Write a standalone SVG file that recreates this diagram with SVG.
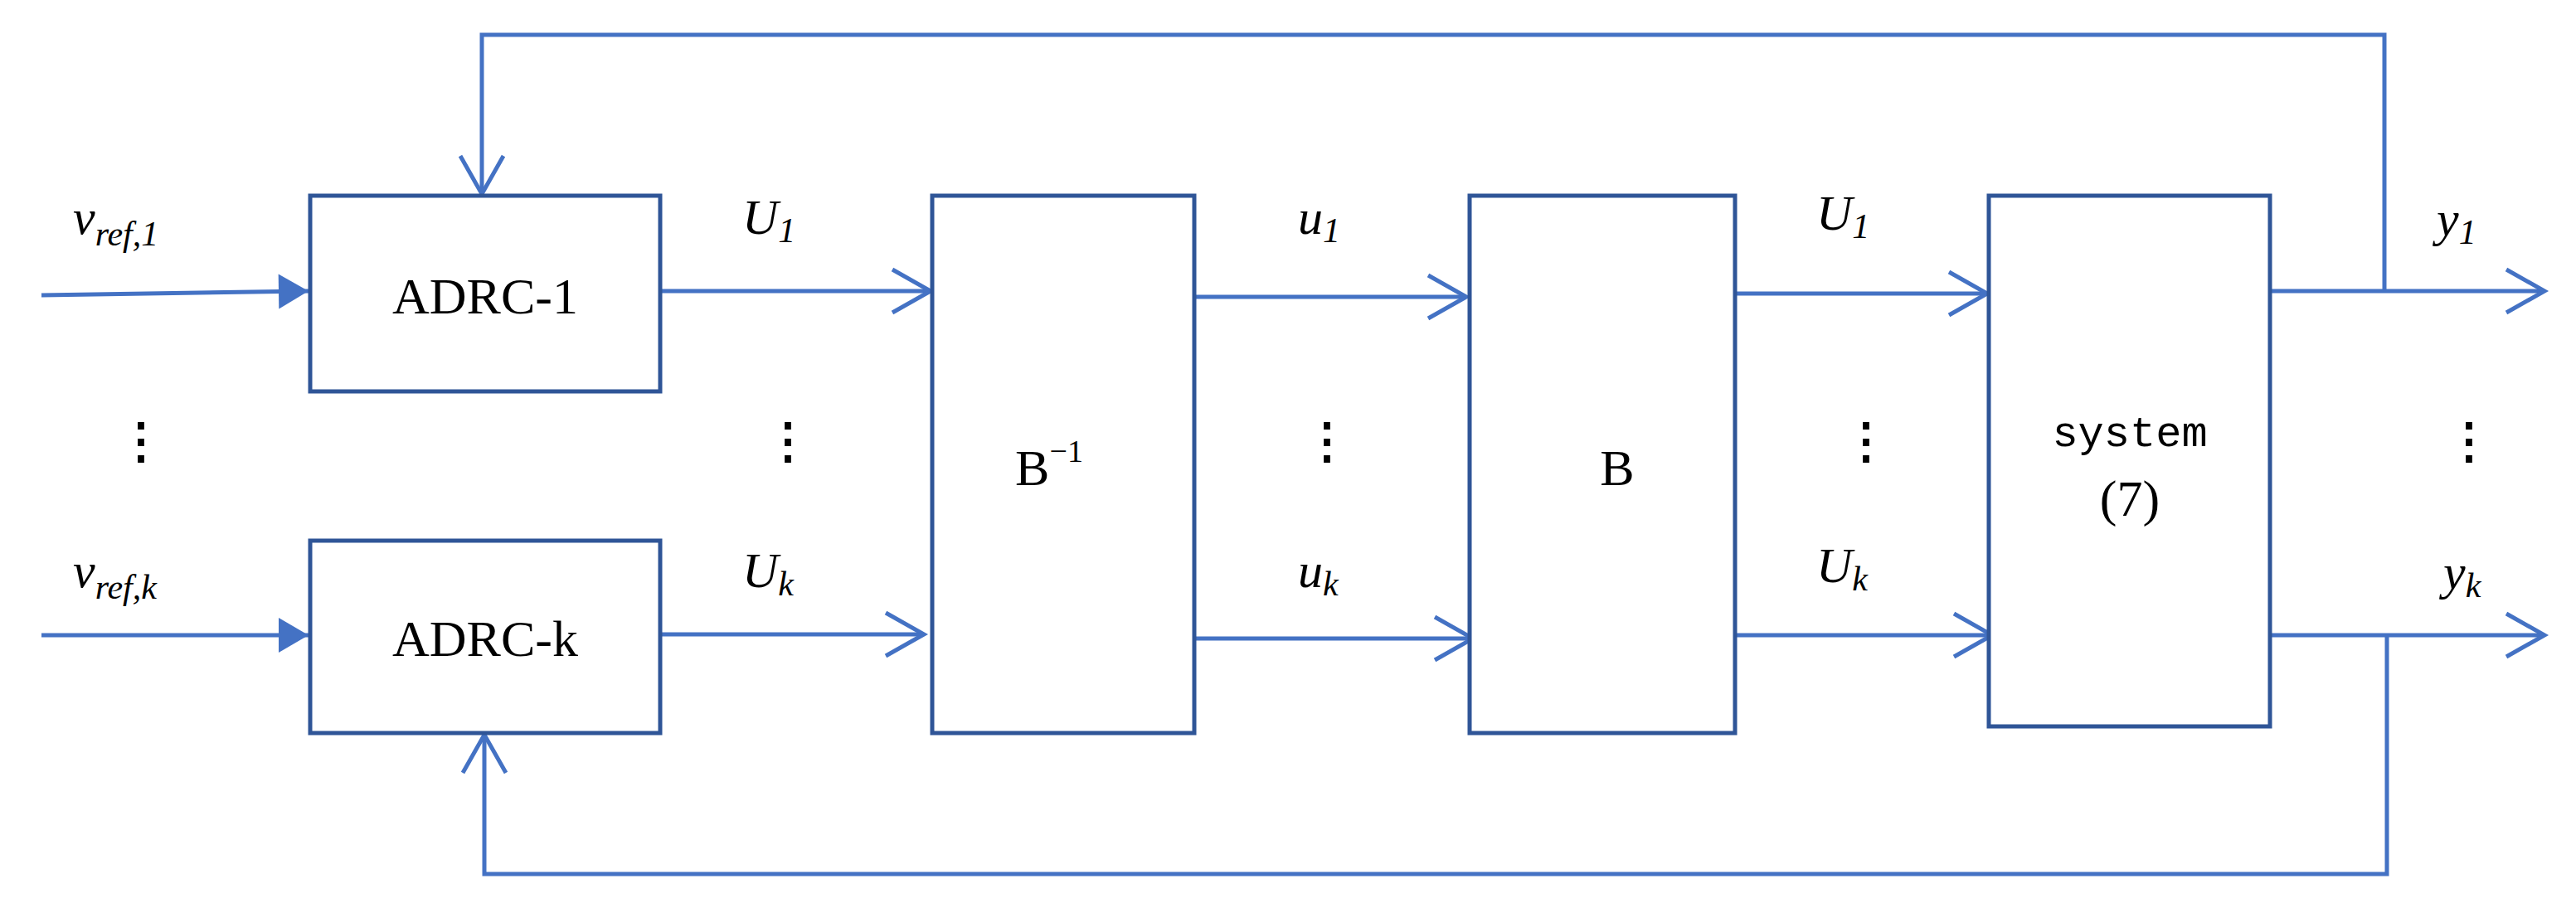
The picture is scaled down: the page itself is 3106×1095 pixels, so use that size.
<svg xmlns="http://www.w3.org/2000/svg" width="3106" height="1095" viewBox="0 0 3106 1095">
<style>
.box{fill:#fff;stroke:#2F5597;stroke-width:5}
.ln{fill:none;stroke:#4472C4;stroke-width:5}
.op{marker-end:url(#open)}
.fl{marker-end:url(#fill)}
.t{font-family:"Liberation Serif",serif;font-size:62px;fill:#000;text-anchor:middle}
.m{font-family:"Liberation Serif",serif;font-style:italic;font-size:60px;fill:#000}
.s{font-size:42px}
.d{font-family:"Liberation Serif",serif;font-size:58px;font-weight:bold;fill:#000;text-anchor:middle}
.mono{font-family:"Liberation Mono",monospace;font-size:52px;fill:#000;text-anchor:middle}
</style>
<defs>
<marker id="open" markerUnits="userSpaceOnUse" markerWidth="60" markerHeight="60" viewBox="-50 -30 60 60" refX="0" refY="0" orient="auto"><path d="M-46,-26 L0,0 L-46,26" fill="none" stroke="#4472C4" stroke-width="5"/></marker>
<marker id="fill" markerUnits="userSpaceOnUse" markerWidth="50" markerHeight="50" viewBox="-40 -25 45 50" refX="0" refY="0" orient="auto"><path d="M-36,-21 L0,0 L-36,21 Z" fill="#4472C4"/></marker>
</defs>
<g id="connectors">
<path class="ln fl" d="M50,356 L372,351"/>
<path class="ln fl" d="M50,766 L372,766"/>
<path class="ln op" d="M796,351 L1122,351"/>
<path class="ln op" d="M796,765 L1114,765"/>
<path class="ln op" d="M1440,358 L1768,358"/>
<path class="ln op" d="M1440,770 L1776,770"/>
<path class="ln op" d="M2092,354 L2396,354"/>
<path class="ln op" d="M2092,766 L2402,766"/>
<path class="ln op" d="M2737,351 L3068,351"/>
<path class="ln op" d="M2737,766 L3068,766"/>
<path class="ln op" d="M2875,351 L2875,42 L581,42 L581,234"/>
<path class="ln op" d="M2878,766 L2878,1054 L584,1054 L584,886"/>
</g>
<g id="adrc1"><rect class="box" x="374" y="236" width="422" height="236"/><text class="t" x="585" y="378">ADRC-1</text></g>
<g id="adrck"><rect class="box" x="374" y="652" width="422" height="232"/><text class="t" x="585" y="791">ADRC-k</text></g>
<g id="binv"><rect class="box" x="1124" y="236" width="316" height="648"/><text class="t" x="1265" y="585">B<tspan font-size="38" dy="-28">−1</tspan></text></g>
<g id="b"><rect class="box" x="1772" y="236" width="320" height="648"/><text class="t" x="1950" y="585">B</text></g>
<g id="system"><rect class="box" x="2398" y="236" width="339" height="640"/><text class="mono" x="2568" y="538">system</text><text class="t" x="2568" y="622" font-size="56">(7)</text></g>
<g id="labels">
<text class="m" x="88" y="282">v<tspan class="s" dy="14">ref,1</tspan></text>
<text class="m" x="88" y="708">v<tspan class="s" dy="14">ref,k</tspan></text>
<text class="m" x="895" y="282">U<tspan class="s" dy="10">1</tspan></text>
<text class="m" x="895" y="708">U<tspan class="s" dy="10">k</tspan></text>
<text class="m" x="1565" y="282">u<tspan class="s" dy="10">1</tspan></text>
<text class="m" x="1565" y="708">u<tspan class="s" dy="10">k</tspan></text>
<text class="m" x="2190" y="277">U<tspan class="s" dy="10">1</tspan></text>
<text class="m" x="2190" y="702">U<tspan class="s" dy="10">k</tspan></text>
<text class="m" x="2938" y="284">y<tspan class="s" dy="10">1</tspan></text>
<text class="m" x="2946" y="710">y<tspan class="s" dy="10">k</tspan></text>
<text class="d" x="170" y="552">⋮</text>
<text class="d" x="950" y="552">⋮</text>
<text class="d" x="1600" y="552">⋮</text>
<text class="d" x="2250" y="552">⋮</text>
<text class="d" x="2977" y="552">⋮</text>
</g>
</svg>
